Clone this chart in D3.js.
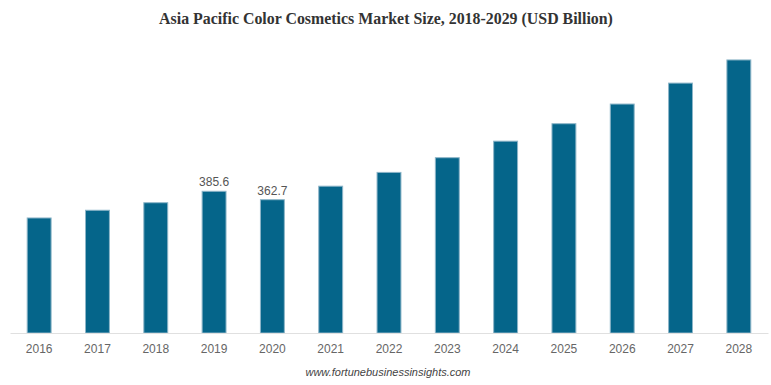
<!DOCTYPE html>
<html>
<head>
<meta charset="utf-8">
<script src="https://cdn.jsdelivr.net/npm/d3@7"></script>
<style>
  body { margin: 0; background: #fff; }
</style>
</head>
<body>
<script>
// Chart data
const years = ["2016", "2017", "2018", "2019", "2020", "2021", "2022", "2023", "2024", "2025", "2026", "2027", "2028"];
const values = [313, 334, 354.5, 385.6, 362.7, 399.5, 437, 477, 522, 569.5, 623, 680, 743];
const labelled = ["2019", "2020"];

const width = 771;
const height = 385;
const margin = { top: 39, right: 3, bottom: 52, left: 10 };

const svg = d3.select("body")
  .append("svg")
  .attr("width", width)
  .attr("height", height);

// Scales
const x = d3.scaleBand()
  .domain(years)
  .range([margin.left, width - margin.right])
  .paddingInner(0.59)
  .paddingOuter(0.295);

const y = d3.scaleLinear()
  .domain([0, 800])
  .range([height - margin.bottom, margin.top]);

// Title
svg.append("text")
  .attr("x", 386)
  .attr("y", 24)
  .attr("text-anchor", "middle")
  .attr("font-family", "'Liberation Serif', 'Times New Roman', serif")
  .attr("font-weight", "bold")
  .attr("font-size", 15.9)
  .attr("fill", "#333")
  .text("Asia Pacific Color Cosmetics Market Size, 2018-2029 (USD Billion)");

// Bars
svg.selectAll("rect.bar")
  .data(years)
  .enter()
  .append("rect")
  .attr("class", "bar")
  .attr("x", d => x(d))
  .attr("y", (d, i) => y(values[i]))
  .attr("width", x.bandwidth())
  .attr("height", (d, i) => y(0) - y(values[i]))
  .attr("fill", "#05658a")
  .attr("stroke", "#8db5c8")
  .attr("stroke-width", 1);

// X axis
const xAxis = svg.append("g")
  .attr("transform", `translate(0,${y(0)})`)
  .call(d3.axisBottom(x).tickSize(0).tickPadding(11));
xAxis.select(".domain").attr("stroke", "#e0e0e0");
xAxis.selectAll("text")
  .attr("font-family", "Arial, 'Liberation Sans', sans-serif")
  .attr("font-size", 12)
  .attr("fill", "#666");

// Value labels
svg.selectAll("text.val")
  .data(years.filter(d => labelled.includes(d)))
  .enter()
  .append("text")
  .attr("class", "val")
  .attr("x", d => x(d) + x.bandwidth() / 2)
  .attr("y", d => y(values[years.indexOf(d)]) - 5)
  .attr("text-anchor", "middle")
  .attr("font-family", "Arial, 'Liberation Sans', sans-serif")
  .attr("font-size", 12)
  .attr("fill", "#555")
  .text(d => values[years.indexOf(d)]);

// Source
svg.append("text")
  .attr("x", 388)
  .attr("y", 376)
  .attr("text-anchor", "middle")
  .attr("font-family", "Arial, 'Liberation Sans', sans-serif")
  .attr("font-style", "italic")
  .attr("font-size", 11)
  .attr("fill", "#444")
  .text("www.fortunebusinessinsights.com");
</script>
</body>
</html>
